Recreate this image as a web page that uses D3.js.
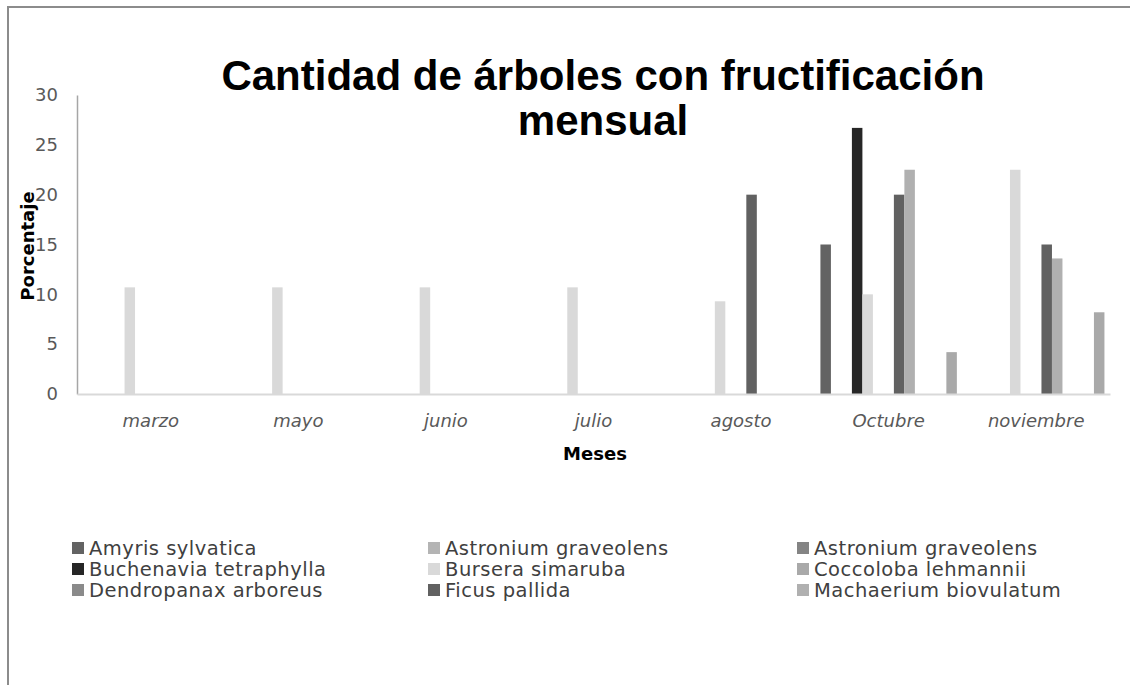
<!DOCTYPE html>
<html>
<head>
<meta charset="utf-8">
<script src="https://cdn.jsdelivr.net/npm/d3@7"></script>
<style>
  body { margin: 0; background: #fff; }
  svg text { font-family: "DejaVu Sans", sans-serif; }
  svg text.title { font-family: "Liberation Sans", Arial, sans-serif; }
</style>
</head>
<body>
<div id="chart"></div>
<script>
// months on the x axis
var months = ["marzo", "mayo", "junio", "julio", "agosto", "Octubre", "noviembre"];

// series, in slot order (the last four have no legend entry in the original)
var speciesNames = [
  "Amyris sylvatica", "Astronium graveolens", "Astronium graveolens",
  "Buchenavia tetraphylla", "Bursera simaruba", "Coccoloba lehmannii",
  "Dendropanax arboreus", "Ficus pallida", "Machaerium biovulatum",
  null, null, null, null
];
var speciesColors = [
  "#636363", "#b4b4b4", "#848484",
  "#262626", "#d9d9d9", "#a9a9a9",
  "#8a8a8a", "#616161", "#b0b0b0",
  "#9a9a9a", "#c0c0c0", "#707070", "#a9a9a9"
];

// values per series, one per month (0 = no bar)
var amyris      = [0, 0, 0, 0, 0, 15, 0];
var astronium1  = [0, 0, 0, 0, 0, 0, 0];
var astronium2  = [0, 0, 0, 0, 0, 0, 0];
var buchenavia  = [0, 0, 0, 0, 0, 26.7, 0];
var bursera     = [10.7, 10.7, 10.7, 10.7, 9.3, 10, 22.5];
var coccoloba   = [0, 0, 0, 0, 0, 0, 0];
var dendropanax = [0, 0, 0, 0, 0, 0, 0];
var ficus       = [0, 0, 0, 0, 20, 20, 15];
var machaerium  = [0, 0, 0, 0, 0, 22.5, 13.6];
var serie10     = [0, 0, 0, 0, 0, 0, 0];
var serie11     = [0, 0, 0, 0, 0, 0, 0];
var serie12     = [0, 0, 0, 0, 0, 0, 0];
var serie13     = [0, 0, 0, 0, 0, 4.2, 8.2];

var seriesValues = [amyris, astronium1, astronium2, buchenavia, bursera, coccoloba,
  dendropanax, ficus, machaerium, serie10, serie11, serie12, serie13];

var yTicks = [0, 5, 10, 15, 20, 25, 30];

var width = 1130, height = 685;
var plot = { left: 77, right: 1110, top: 95, bottom: 394 };

var svg = d3.select("#chart").append("svg")
  .attr("width", width)
  .attr("height", height);

svg.append("rect").attr("width", width).attr("height", height).attr("fill", "#fff");

// chart frame (only top and left edges are visible in the picture)
svg.append("path")
  .attr("d", "M8," + height + "V7H" + width)
  .attr("fill", "none")
  .attr("stroke", "#8c8c8c")
  .attr("stroke-width", 2);

var x = d3.scaleBand().domain(months).range([plot.left, plot.right]);
var xSlot = d3.scaleBand()
  .domain(d3.range(seriesValues.length))
  .range([0, x.bandwidth()])
  .paddingInner(0)
  .paddingOuter(0.53);
var y = d3.scaleLinear().domain([0, 30]).range([plot.bottom, plot.top]);

// bars
var groups = svg.selectAll(".serie")
  .data(seriesValues)
  .enter()
  .append("g")
  .attr("class", "serie")
  .attr("fill", function (d, i) { return speciesColors[i]; });

groups.each(function (vals, si) {
  d3.select(this).selectAll("rect")
    .data(vals.map(function (v, mi) { return { m: months[mi], v: v }; }).filter(function (d) { return d.v > 0; }))
    .enter()
    .append("rect")
    .attr("x", function (d) { return x(d.m) + xSlot(si); })
    .attr("y", function (d) { return y(d.v); })
    .attr("width", xSlot.bandwidth())
    .attr("height", function (d) { return y(0) - y(d.v); });
});

// y axis
var yAxis = svg.append("g")
  .attr("transform", "translate(" + plot.left + ",0)")
  .call(d3.axisLeft(y).tickValues(yTicks).tickSize(0).tickPadding(19));
yAxis.select(".domain").attr("stroke", "#a6a6a6").attr("stroke-width", 1.5);
yAxis.selectAll("text")
  .attr("fill", "#595959")
  .style("font-size", "18px");

// x axis
var xAxis = svg.append("g")
  .attr("transform", "translate(0," + plot.bottom + ")")
  .call(d3.axisBottom(x).tickSize(0).tickPadding(20));
xAxis.select(".domain").attr("stroke", "#d9d9d9").attr("stroke-width", 2);
xAxis.selectAll("text")
  .attr("fill", "#595959")
  .style("font-size", "18px")
  .style("font-style", "italic");

// title
var title = svg.append("text")
  .attr("class", "title")
  .attr("x", 603)
  .attr("y", 90)
  .attr("text-anchor", "middle")
  .attr("font-weight", "bold")
  .style("font-size", "42px")
  .attr("fill", "#000");
title.append("tspan").attr("x", 603).text("Cantidad de árboles con fructificación");
title.append("tspan").attr("x", 603).attr("dy", 45).text("mensual");

// axis titles
svg.append("text")
  .attr("x", 595)
  .attr("y", 460)
  .attr("text-anchor", "middle")
  .attr("font-weight", "bold")
  .style("font-size", "18px")
  .attr("fill", "#000")
  .text("Meses");

svg.append("text")
  .attr("transform", "translate(34,246) rotate(-90)")
  .attr("text-anchor", "middle")
  .attr("font-weight", "bold")
  .style("font-size", "18px")
  .attr("fill", "#000")
  .text("Porcentaje");

// legend, 3 columns
var legendItems = speciesNames
  .map(function (n, i) { return { name: n, color: speciesColors[i] }; })
  .filter(function (d) { return d.name; });
var legendCols = [72, 428, 797];
var legendRows = [548, 569, 590];

var legend = svg.selectAll(".legend-item")
  .data(legendItems)
  .enter()
  .append("g")
  .attr("class", "legend-item")
  .attr("transform", function (d, i) {
    return "translate(" + legendCols[i % 3] + "," + legendRows[Math.floor(i / 3)] + ")";
  });

legend.append("rect")
  .attr("x", 0)
  .attr("y", -6)
  .attr("width", 12)
  .attr("height", 12)
  .attr("fill", function (d) { return d.color; });

legend.append("text")
  .attr("x", 17)
  .attr("dy", "0.35em")
  .style("font-size", "19.5px")
  .style("letter-spacing", "0.5px")
  .attr("fill", "#404040")
  .text(function (d) { return d.name; });
</script>
</body>
</html>
